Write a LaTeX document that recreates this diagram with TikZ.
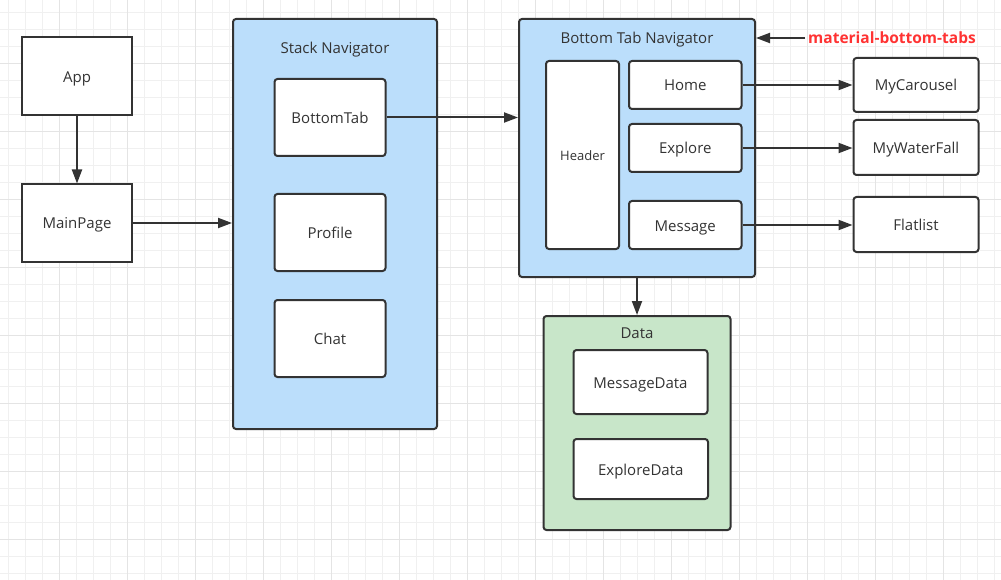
\documentclass[tikz,border=0pt]{standalone}
\usepackage{fontspec}
\setmainfont{Open Sans}
\usepackage{tikz}
\usetikzlibrary{arrows.meta}
\usepackage{xcolor}
\definecolor{linegray}{HTML}{333333}
\definecolor{navblue}{HTML}{BBDEFB}
\definecolor{datagreen}{HTML}{C8E6C9}
\definecolor{tabred}{HTML}{FF3333}
\definecolor{gridminor}{HTML}{F0F0F0}
\definecolor{gridmajor}{HTML}{E4E4E4}

\begin{document}
\begin{tikzpicture}[x=1pt,y=-1pt,
		box/.style={draw=linegray,line width=2pt,fill=white,text=linegray,
			font=\fontsize{15pt}{18pt}\selectfont,inner sep=0pt,
			text height=12.5pt,text depth=0.5pt},
		rbox/.style={box,rounded corners=3pt},
		frame/.style={rbox,fill=navblue},
		title/.style={text=linegray,font=\fontsize{15pt}{18pt}\selectfont,
			text height=12.5pt,text depth=0.5pt},
		arr/.style={draw=linegray,line width=2pt,
			-{Triangle[length=14pt,width=10pt]}}]
		\useasboundingbox (0,0) rectangle (1001,580);
		\fill[white] (0,0) rectangle (1001,580);
		\foreach \i in {0,...,58}
		\draw[gridminor,line width=1pt] (8.5+17*\i,0) -- (8.5+17*\i,580);
		\foreach \j in {0,...,33}
		\draw[gridminor,line width=1pt] (0,12.7+17*\j) -- (1001,12.7+17*\j);
		\foreach \i in {3,7,...,55}
		\draw[gridmajor,line width=1pt] (8.5+17*\i,0) -- (8.5+17*\i,580);
		\foreach \j in {3,7,...,31}
		\draw[gridmajor,line width=1pt] (0,12.7+17*\j) -- (1001,12.7+17*\j);
	
		\node[box,minimum width=110pt,minimum height=78pt] (app) at (77,76.5) {App};
		\node[box,minimum width=110pt,minimum height=77pt] (mainpage) at (77,223) {MainPage};
	
		\node[frame,minimum width=204pt,minimum height=410pt] (stack) at (335,224) {};
		\node[title] (stacktitle) at (335,48) {Stack Navigator};
		\node[rbox,minimum width=111pt,minimum height=77pt] (bottomtab) at (330,117.5) {BottomTab};
		\node[rbox,minimum width=111pt,minimum height=77pt] (profile) at (330,232.5) {Profile};
		\node[rbox,minimum width=111pt,minimum height=77pt] (chat) at (330,338.5) {Chat};
	
		\node[frame,minimum width=236pt,minimum height=258pt] (tabnav) at (637,148) {};
		\node[title] (tabnavtitle) at (637,38) {Bottom Tab Navigator};
		\node[rbox,minimum width=73pt,minimum height=188pt,
			font=\fontsize{13pt}{16pt}\selectfont] (header) at (582.5,155) {Header};
		\node[rbox,minimum width=112.5pt,minimum height=48pt] (home) at (685.25,85) {Home};
		\node[rbox,minimum width=112.5pt,minimum height=48pt] (explore) at (685.25,148) {Explore};
		\node[rbox,minimum width=112.5pt,minimum height=48pt] (message) at (685.25,225) {Message};
	
		\node[rbox,minimum width=125pt,minimum height=54pt] (carousel) at (916,85) {MyCarousel};
		\node[rbox,minimum width=125pt,minimum height=55pt] (waterfall) at (916,147.5) {MyWaterFall};
		\node[rbox,minimum width=125pt,minimum height=55pt] (flatlist) at (916,224.5) {Flatlist};
	
		\node[text=tabred,font=\fontsize{15.5pt}{18pt}\selectfont\bfseries,inner sep=3pt,
			text height=12pt,text depth=1pt] (mbt) at (892,38) {material-bottom-tabs};
	
		\node[frame,fill=datagreen,minimum width=187pt,minimum height=214pt] (data) at (637,423) {};
		\node[title] (datatitle) at (637,332) {Data};
		\node[rbox,minimum width=134pt,minimum height=64pt] (messagedata) at (640.5,382) {MessageData};
		\node[rbox,minimum width=134.5pt,minimum height=60pt] (exploredata) at (640.75,469) {ExploreData};
	
		\draw[arr] (app) -- (mainpage);
		\draw[arr] (mainpage.east) -- (mainpage.east -| stack.west);
		\draw[arr] (bottomtab.east) -- (bottomtab.east -| tabnav.west);
		\draw[arr] (home) -- (carousel);
		\draw[arr] (explore.east) -- (explore.east -| waterfall.west);
		\draw[arr] (message.east) -- (message.east -| flatlist.west);
		\draw[arr] (mbt) -- (mbt -| tabnav.east);
		\draw[arr] (tabnav) -- (data);
	\end{tikzpicture}
\end{document}
